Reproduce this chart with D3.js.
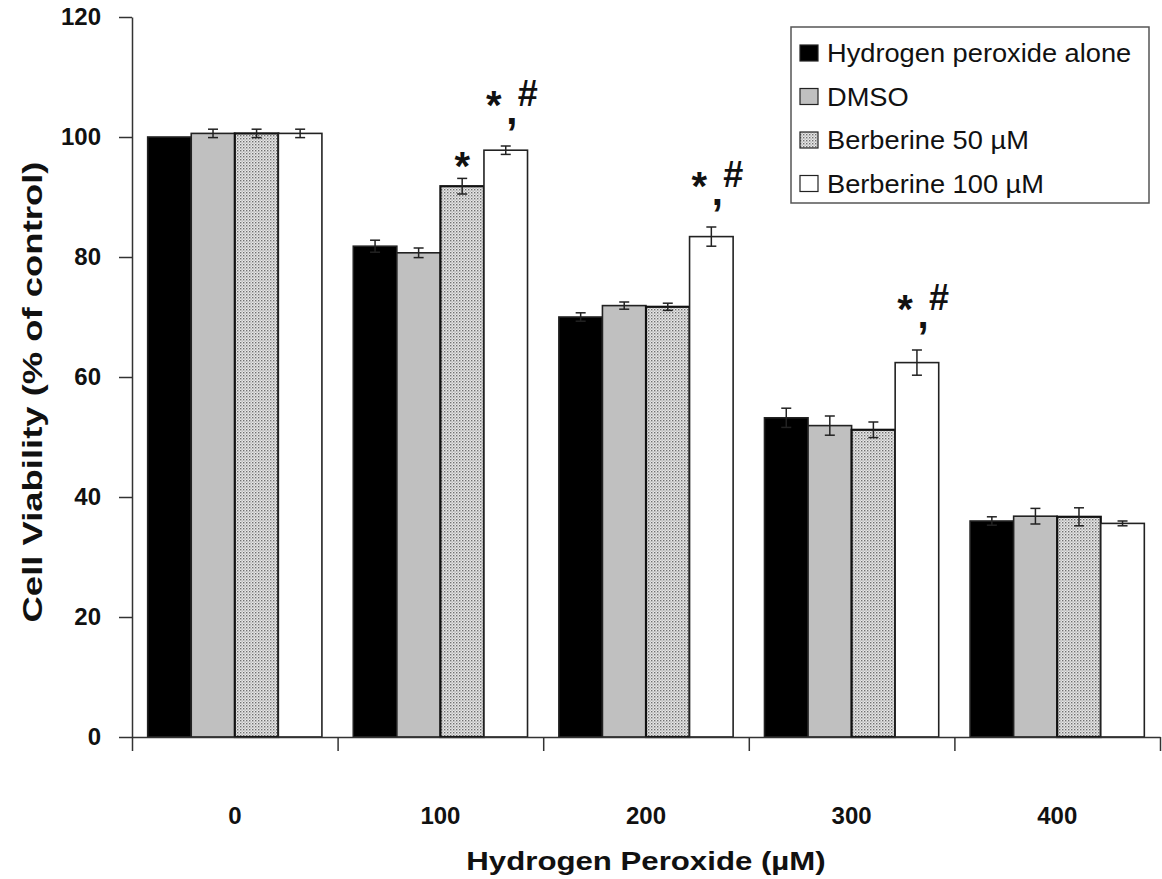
<!DOCTYPE html>
<html>
<head>
<meta charset="utf-8">
<style>
  body { margin: 0; background: #fff; }
  text { font-family: "Liberation Sans", Arial, sans-serif; fill: #111; }
  .axis path, .axis line { stroke: #333; stroke-width: 1.5px; }
  .bold { font-weight: bold; }
</style>
</head>
<body>
<div id="chart"></div>
<script src="https://d3js.org/d3.v7.min.js"></script>
<script>
// data
var doses = ["0", "100", "200", "300", "400"];
var series = ["Hydrogen peroxide alone", "DMSO", "Berberine 50 \u00b5M", "Berberine 100 \u00b5M"];
var h2o2Alone = [100, 81.8, 70.0, 53.2, 36.0];
var dmso      = [100.6, 80.7, 71.9, 51.9, 36.8];
var berb50    = [100.6, 91.8, 71.7, 51.2, 36.7];
var berb100   = [100.6, 97.8, 83.4, 62.4, 35.6];
var errAlone  = [0, 1.0, 0.7, 1.6, 0.7];
var errDmso   = [0.7, 0.8, 0.6, 1.6, 1.3];
var err50     = [0.7, 1.3, 0.6, 1.3, 1.5];
var err100    = [0.7, 0.7, 1.6, 2.1, 0.4];
// significance marks per dose, per series
var sig = [
  ["", "", "", ""],
  ["", "", "*", "*#"],
  ["", "", "", "*#"],
  ["", "", "", "*#"],
  ["", "", "", ""]
];
var yTicks = [0, 20, 40, 60, 80, 100, 120];

var values = [h2o2Alone, dmso, berb50, berb100];
var errors = [errAlone, errDmso, err50, err100];

var width = 1162, height = 879;
var margin = {top: 17, right: 2, bottom: 142, left: 132};

var svg = d3.select("#chart").append("svg")
    .attr("width", width)
    .attr("height", height);

// stipple pattern for the 50 uM bars
var defs = svg.append("defs");
var pat = defs.append("pattern")
    .attr("id", "stipple")
    .attr("patternUnits", "userSpaceOnUse")
    .attr("width", 3).attr("height", 3);
pat.append("rect").attr("width", 3).attr("height", 3).attr("fill", "#e8e8e8");
pat.append("rect").attr("x", 0).attr("y", 0).attr("width", 1.4).attr("height", 1.4).attr("fill", "#707070");
pat.append("rect").attr("x", 1.5).attr("y", 1.5).attr("width", 1.2).attr("height", 1.2).attr("fill", "#a0a0a0");

var fills = ["#000", "#c0c0c0", "url(#stipple)", "#fff"];

var x0 = d3.scaleBand()
    .domain(doses)
    .range([margin.left, width - margin.right])
    .paddingInner(0).paddingOuter(0);

var x1 = d3.scaleBand()
    .domain(series)
    .range([0, x0.bandwidth()])
    .paddingInner(0).paddingOuter(0.36);

var y = d3.scaleLinear()
    .domain([0, 120])
    .range([height - margin.bottom, margin.top]);

// flatten into bar records
var bars = [];
doses.forEach(function(d, i) {
  series.forEach(function(s, j) {
    bars.push({dose: d, s: s, j: j, v: values[j][i], e: errors[j][i], sig: sig[i][j]});
  });
});

// bars
svg.append("g").selectAll("rect")
    .data(bars)
  .enter().append("rect")
    .attr("x", function(d) { return x0(d.dose) + x1(d.s); })
    .attr("y", function(d) { return y(d.v); })
    .attr("width", x1.bandwidth())
    .attr("height", function(d) { return y(0) - y(d.v); })
    .attr("fill", function(d) { return fills[d.j]; })
    .attr("stroke", function(d) { return d.j == 2 ? "#111" : "#222"; })
    .attr("stroke-width", function(d) { return d.j == 2 ? 2.2 : 1.6; });

// error bars
var eb = svg.append("g").attr("stroke", "#222").attr("stroke-width", 1.5)
  .selectAll("g")
    .data(bars.filter(function(d) { return d.e > 0; }))
  .enter().append("g")
    .attr("transform", function(d) {
      return "translate(" + (x0(d.dose) + x1(d.s) + x1.bandwidth() / 2) + ",0)";
    });
eb.append("line")
    .attr("y1", function(d) { return y(d.v + d.e); })
    .attr("y2", function(d) { return y(d.v - d.e); });
eb.append("line").attr("x1", -5).attr("x2", 5)
    .attr("y1", function(d) { return y(d.v + d.e); })
    .attr("y2", function(d) { return y(d.v + d.e); });
eb.append("line").attr("x1", -5).attr("x2", 5)
    .attr("y1", function(d) { return y(d.v - d.e); })
    .attr("y2", function(d) { return y(d.v - d.e); });

// significance marks
var marks = svg.append("g").attr("class", "bold").style("font-size", "40px")
  .selectAll("g")
    .data(bars.filter(function(d) { return d.sig != ""; }))
  .enter().append("g")
    .attr("transform", function(d) {
      return "translate(" + (x0(d.dose) + x1(d.s) + x1.bandwidth() / 2) + "," + y(d.v + d.e) + ")";
    });
marks.filter(function(d) { return d.sig == "*"; }).append("text")
    .attr("text-anchor", "middle").attr("y", 2).text("*");
var both = marks.filter(function(d) { return d.sig == "*#"; });
both.append("text").attr("text-anchor", "middle").attr("x", -12).attr("y", -27).text("*");
both.append("text").attr("text-anchor", "middle").attr("x", 6).attr("y", -22).text(",");
both.append("text").attr("text-anchor", "middle").attr("x", 22).attr("y", -40)
    .style("font-size", "36px").text("#");

// y axis
svg.append("g")
    .attr("class", "axis bold")
    .attr("transform", "translate(" + margin.left + ",0)")
    .call(d3.axisLeft(y).tickValues(yTicks).tickSize(13).tickSizeOuter(0).tickPadding(18))
    .selectAll("text").style("font-size", "24px").attr("fill", "#111");

// x axis: boundary ticks
var xEdge = d3.scaleLinear().domain([0, doses.length]).range(x0.range());
svg.append("g")
    .attr("class", "axis")
    .attr("transform", "translate(0," + y(0) + ")")
    .call(d3.axisBottom(xEdge).tickValues(d3.range(doses.length + 1)).tickSize(14).tickSizeOuter(0).tickFormat(""));

// x category labels
var xl = svg.append("g")
    .attr("class", "bold")
    .attr("transform", "translate(0," + (y(0) + 79) + ")")
    .call(d3.axisBottom(x0).tickSize(0).tickPadding(0));
xl.select(".domain").remove();
xl.selectAll("text").style("font-size", "24px").attr("fill", "#111").attr("dy", "0.35em");

// axis titles
svg.append("text")
    .attr("class", "bold")
    .attr("transform", "translate(646,870) scale(1.2,1)")
    .attr("text-anchor", "middle")
    .style("font-size", "26px")
    .text("Hydrogen Peroxide (\u00b5M)");

svg.append("text")
    .attr("class", "bold")
    .attr("transform", "translate(42,392) rotate(-90) scale(1.35,1)")
    .attr("text-anchor", "middle")
    .style("font-size", "27px")
    .text("Cell Viability (% of control)");

// legend
var legend = svg.append("g");
legend.append("rect")
    .attr("x", 791).attr("y", 27)
    .attr("width", 358).attr("height", 176)
    .attr("fill", "#fff").attr("stroke", "#555").attr("stroke-width", 1.5);
var li = legend.selectAll("g.item")
    .data(series)
  .enter().append("g")
    .attr("class", "item")
    .attr("transform", function(d, i) { return "translate(800," + (62 + i * 43.5) + ")"; });
li.append("rect")
    .attr("y", -17).attr("width", 18).attr("height", 16)
    .attr("fill", function(d, i) { return fills[i]; })
    .attr("stroke", "#222").attr("stroke-width", 1.2);
li.append("text")
    .attr("transform", "translate(27,0) scale(1.09,1)")
    .style("font-size", "25px")
    .text(function(d) { return d; });
</script>
</body>
</html>
